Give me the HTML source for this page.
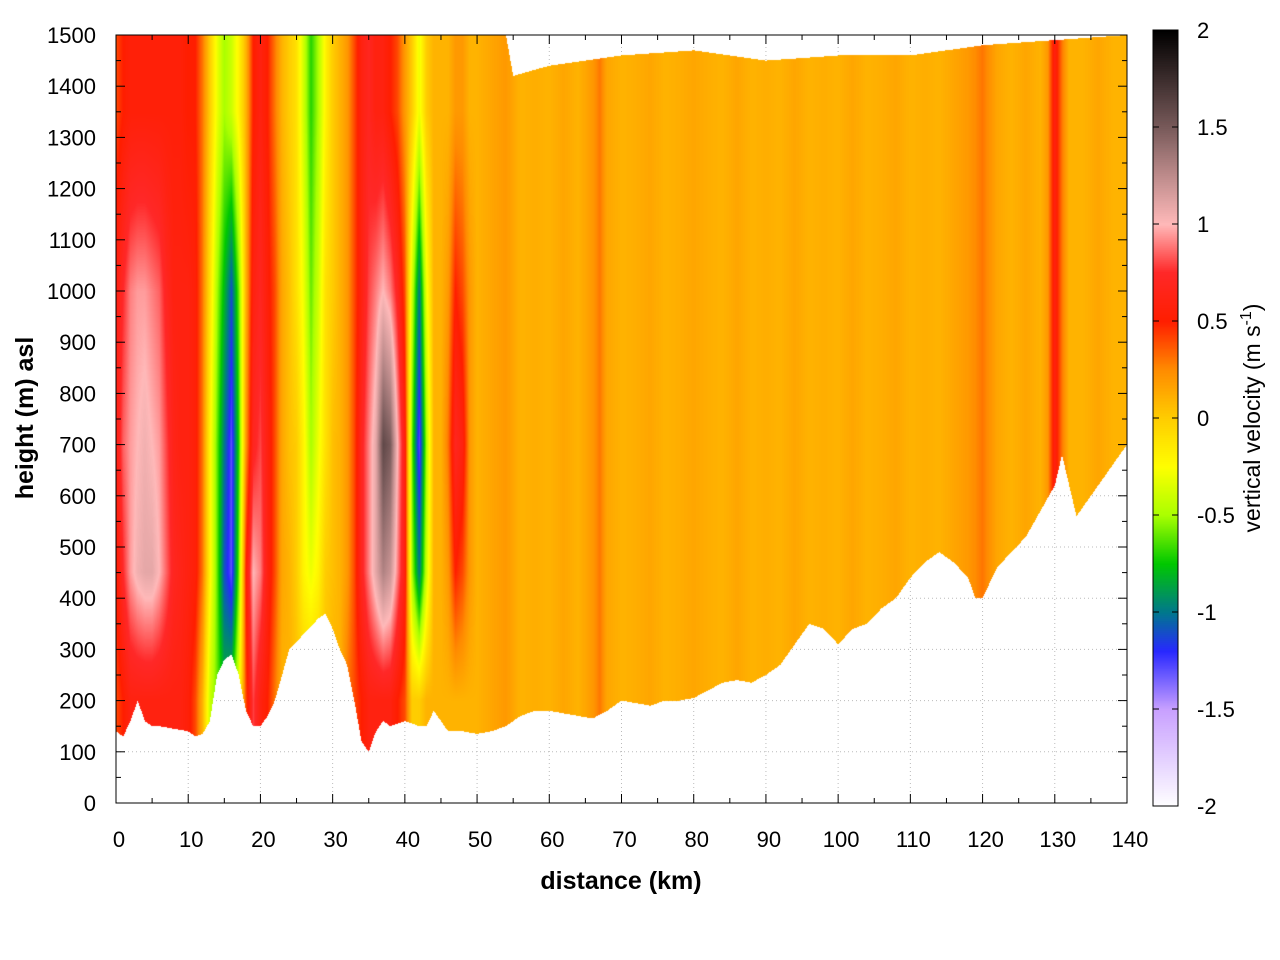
<!DOCTYPE html>
<html><head><meta charset="utf-8"><style>
body{margin:0;background:#fff;width:1280px;height:960px;overflow:hidden;font-family:"Liberation Sans",sans-serif}
#wrap{position:relative;width:1280px;height:960px}
canvas,svg{position:absolute;left:0;top:0}
</style></head><body>
<div id="wrap">
<svg id="bg" width="1280" height="960"></svg>
<canvas id="cv" width="1280" height="960"></canvas>
<svg id="fg" width="1280" height="960"></svg>
</div>
<script>
// ---- data ----
const rowHeights=[200,450,700,1000,1350];
const nearDist=[0,1,2,3,4,5,6,7,8,9,10,11,12,13,14,15,16,17,18,19,20,21,22,23,24,25,26,27,28,29,30,31,32,33,34,35,36,37,38,39,40,41,42,43,44,45,46,47,48,49,50];
const nearVals=[
[0.4,0.5,0.6,0.6,0.4],[0.5,0.75,0.85,0.75,0.5],[0.6,0.95,0.95,0.9,0.55],[0.6,1.05,1.0,0.95,0.55],[0.6,1.1,1.05,0.95,0.55],
[0.6,1.1,1.0,0.9,0.55],[0.6,1.0,0.95,0.85,0.55],[0.6,0.85,0.8,0.7,0.55],[0.6,0.7,0.65,0.6,0.55],[0.6,0.65,0.6,0.6,0.55],
[0.55,0.6,0.6,0.6,0.5],[0.4,0.55,0.55,0.55,0.5],[0.1,0.3,0.3,0.3,0.3],[-0.4,-0.2,-0.2,-0.1,0.0],[-0.6,-0.6,-0.6,-0.5,-0.3],
[-0.8,-1.1,-1.0,-0.8,-0.5],[-0.7,-1.3,-1.3,-1.1,-0.4],[-0.3,-0.6,-0.7,-0.6,-0.2],[0.4,0.5,0.2,0.1,0.1],[0.8,1.0,0.7,0.6,0.5],
[0.6,0.9,0.8,0.7,0.6],[0.5,0.6,0.6,0.55,0.5],[0.3,0.4,0.4,0.4,0.3],[0.1,0.15,0.15,0.15,0.1],[0.1,0.1,0.05,0.05,0.0],
[0.05,0.0,0.0,-0.1,-0.1],[0.0,-0.2,-0.2,-0.3,-0.4],[0.0,-0.3,-0.5,-0.6,-0.7],[0.0,-0.2,-0.3,-0.4,-0.5],[0.05,0.0,-0.1,-0.1,-0.2],
[0.1,0.05,0.05,0.0,0.0],[0.1,0.1,0.1,0.1,0.1],[0.3,0.2,0.2,0.2,0.2],[0.4,0.4,0.4,0.4,0.4],[0.5,0.7,0.7,0.6,0.6],
[0.6,0.9,0.9,0.8,0.7],[0.6,1.1,1.1,0.9,0.6],[0.6,1.3,1.6,1.0,0.6],[0.6,1.2,1.5,0.9,0.5],[0.5,0.9,1.0,0.7,0.4],
[0.4,0.6,0.6,0.4,0.2],[0.0,-0.5,-0.6,-0.4,0.0],[0.0,-1.0,-1.3,-1.0,-0.3],[0.1,-0.4,-0.5,-0.3,0.0],[0.1,0.1,0.1,0.1,0.1],
[0.1,0.1,0.1,0.1,0.1],[0.1,0.2,0.3,0.2,0.1],[0.1,0.5,0.7,0.5,0.2],[0.1,0.4,0.6,0.4,0.2],[0.1,0.2,0.2,0.2,0.1],[0.1,0.1,0.1,0.1,0.1]];
const farDist=[50,52,54,56,58,60,62,64,66,67,68,70,72,74,76,78,80,82,84,86,88,90,92,94,96,98,100,102,104,106,108,110,112,114,116,118,120,122,124,126,128,129,130,131,132,134,136,138,140];
const farVals=[0.1,0.15,0.2,0.1,0.12,0.1,0.15,0.1,0.2,0.3,0.15,0.1,0.12,0.15,0.1,0.12,0.15,0.12,0.1,0.15,0.1,0.12,0.1,0.15,0.1,0.12,0.1,0.15,0.1,0.12,0.15,0.1,0.12,0.1,0.15,0.2,0.3,0.15,0.1,0.15,0.1,0.2,0.6,0.3,0.1,0.1,0.15,0.1,0.1];
const bottomDist=[0,1,2,3,4,5,6,8,10,11,12,13,14,15,16,17,18,19,20,21,22,23,24,26,28,29,30,31,32,33,34,35,36,37,38,40,42,43,44,45,46,48,50,52,54,56,58,60,62,64,66,68,70,72,74,76,78,80,82,84,86,88,90,92,94,96,98,100,102,104,106,108,110,112,114,116,118,119,120,121,122,124,126,128,130,131,132,133,134,136,138,140];
const bottomH=[140,130,160,200,160,150,150,145,140,130,135,160,250,280,290,250,180,150,150,170,200,250,300,330,360,370,340,300,270,200,120,100,140,160,150,160,150,150,180,160,140,140,135,140,150,170,180,180,175,170,165,180,200,195,190,200,200,205,220,235,240,235,250,270,310,350,340,310,340,350,380,400,440,470,490,470,440,400,400,430,460,490,520,570,620,680,620,560,580,620,660,700];
const topDist=[0,54,55,60,70,80,90,100,110,120,130,140];
const topH=[1500,1500,1420,1440,1460,1470,1450,1460,1460,1480,1490,1500];
const xTicks=[0,10,20,30,40,50,60,70,80,90,100,110,120,130,140];
const yTicks=[0,100,200,300,400,500,600,700,800,900,1000,1100,1200,1300,1400,1500];
const cbTicks=[2,1.5,1,0.5,0,-0.5,-1,-1.5,-2];
const cmap=[[-2,[255,255,255]],[-1.5,[200,160,255]],[-1.2,[40,40,255]],[-1.0,[0,120,140]],[-0.75,[0,200,0]],[-0.5,[170,255,0]],[-0.25,[255,255,0]],[0,[255,205,0]],[0.25,[255,140,0]],[0.5,[255,30,0]],[0.75,[255,40,40]],[1.0,[255,185,185]],[1.25,[190,140,140]],[1.5,[120,90,90]],[2,[0,0,0]]];
// ---- layout ----
const X0=116,X1=1127,Y0=803,Y1=35;
const xs=d=>X0+(X1-X0)*d/140, ys=h=>Y0-(Y0-Y1)*h/1500;
const CBX=1153,CBW=25,CBT=30,CBB=806;
const cbY=v=>CBB-(CBB-CBT)*(v+2)/4;
function interp(xa,ya,x){if(x<=xa[0])return ya[0];for(let i=1;i<xa.length;i++){if(x<=xa[i]){const t=(x-xa[i-1])/(xa[i]-xa[i-1]);return ya[i-1]+t*(ya[i]-ya[i-1]);}}return ya[ya.length-1];}
function color(v){v=Math.max(-2,Math.min(2,v));for(let i=1;i<cmap.length;i++){if(v<=cmap[i][0]){const a=cmap[i-1],b=cmap[i];const t=(v-a[0])/(b[0]-a[0]);return [0,1,2].map(k=>Math.round(a[1][k]+t*(b[1][k]-a[1][k])));}}return cmap[cmap.length-1][1];}
function value(d,h){
  if(d<50){const i=Math.min(49,Math.floor(d)),t=d-i;
    const prof=rowHeights.map((_,r)=>nearVals[i][r]*(1-t)+nearVals[i+1][r]*t);
    return interp(rowHeights,prof,h);}
  return interp(farDist,farVals,d);}
// ---- heatmap ----
const cv=document.getElementById('cv'),ctx=cv.getContext('2d');
const img=ctx.createImageData(X1-X0,Y0-Y1);
for(let px=0;px<X1-X0;px++){const d=140*(px+0.5)/(X1-X0);
  const hb=interp(bottomDist,bottomH,d),ht=interp(topDist,topH,d);
  for(let py=0;py<Y0-Y1;py++){const h=1500*(1-(py+0.5)/(Y0-Y1));
    if(h<hb||h>ht)continue;const c=color(value(d,h));const o=(py*(X1-X0)+px)*4;
    img.data[o]=c[0];img.data[o+1]=c[1];img.data[o+2]=c[2];img.data[o+3]=255;}}
ctx.putImageData(img,X0,Y1);
// colorbar
for(let y=CBT;y<CBB;y++){const v=2-4*(y-CBT)/(CBB-CBT);const c=color(v);ctx.fillStyle=`rgb(${c})`;ctx.fillRect(CBX,y,CBW,1);}
// ---- svg ----
const NS='http://www.w3.org/2000/svg';
function mk(p,tag,a){const e=document.createElementNS(NS,tag);for(const k in a)e.setAttribute(k,a[k]);p.appendChild(e);return e;}
const bg=document.getElementById('bg'),fg=document.getElementById('fg');
xTicks.forEach(t=>{const g=mk(bg,'line',{x1:xs(t),x2:xs(t),y1:Y1,y2:Y0,stroke:'#bbb','stroke-dasharray':'1,3'});

});
yTicks.forEach(t=>{const g=mk(bg,'line',{x1:X0,x2:X1,y1:ys(t),y2:ys(t),stroke:'#bbb','stroke-dasharray':'1,3'});

});
const frame=mk(fg,'rect',{x:X0,y:Y1,width:X1-X0,height:Y0-Y1,fill:'none',stroke:'#000'});


for(let d=0;d<=140;d+=5){const L=d%10===0?9:5;
  mk(fg,'line',{x1:xs(d),x2:xs(d),y1:Y0,y2:Y0-L,stroke:'#000'});mk(fg,'line',{x1:xs(d),x2:xs(d),y1:Y1,y2:Y1+L,stroke:'#000'});}
for(let h=0;h<=1500;h+=50){const L=h%100===0?9:5;
  mk(fg,'line',{x1:X0,x2:X0+L,y1:ys(h),y2:ys(h),stroke:'#000'});mk(fg,'line',{x1:X1,x2:X1-L,y1:ys(h),y2:ys(h),stroke:'#000'});}
xTicks.forEach(t=>{const e=mk(fg,'text',{x:xs(t)+3,y:847,'font-size':22,'text-anchor':'middle'});e.textContent=t;

});
yTicks.forEach(t=>{const e=mk(fg,'text',{x:96,y:ys(t)+8,'font-size':22,'text-anchor':'end'});e.textContent=t;

});
const xt=mk(fg,'text',{x:621,y:889,'font-size':25,'font-weight':'bold','text-anchor':'middle'});xt.textContent='distance (km)';


const yt=mk(fg,'text',{x:0,y:0,'font-size':25,'font-weight':'bold','text-anchor':'middle',transform:'translate(33,418) rotate(-90)'});yt.textContent='height (m) asl';


const cbf=mk(fg,'rect',{x:CBX,y:CBT,width:CBW,height:CBB-CBT,fill:'none',stroke:'#000'});


cbTicks.forEach(t=>{const y=cbY(t);mk(fg,'line',{x1:CBX,x2:CBX+6,y1:y,y2:y,stroke:'#000'});mk(fg,'line',{x1:CBX+CBW,x2:CBX+CBW-6,y1:y,y2:y,stroke:'#000'});
const e=mk(fg,'text',{x:1197,y:y+8,'font-size':22});e.textContent=t;

});
const ct=mk(fg,'text',{x:0,y:0,'font-size':23,'text-anchor':'middle',transform:'translate(1260,418) rotate(-90)'});
ct.innerHTML='vertical velocity (m s<tspan dy="-9" font-size="16">-1</tspan><tspan dy="9">)</tspan>';


</script>
</body></html>
